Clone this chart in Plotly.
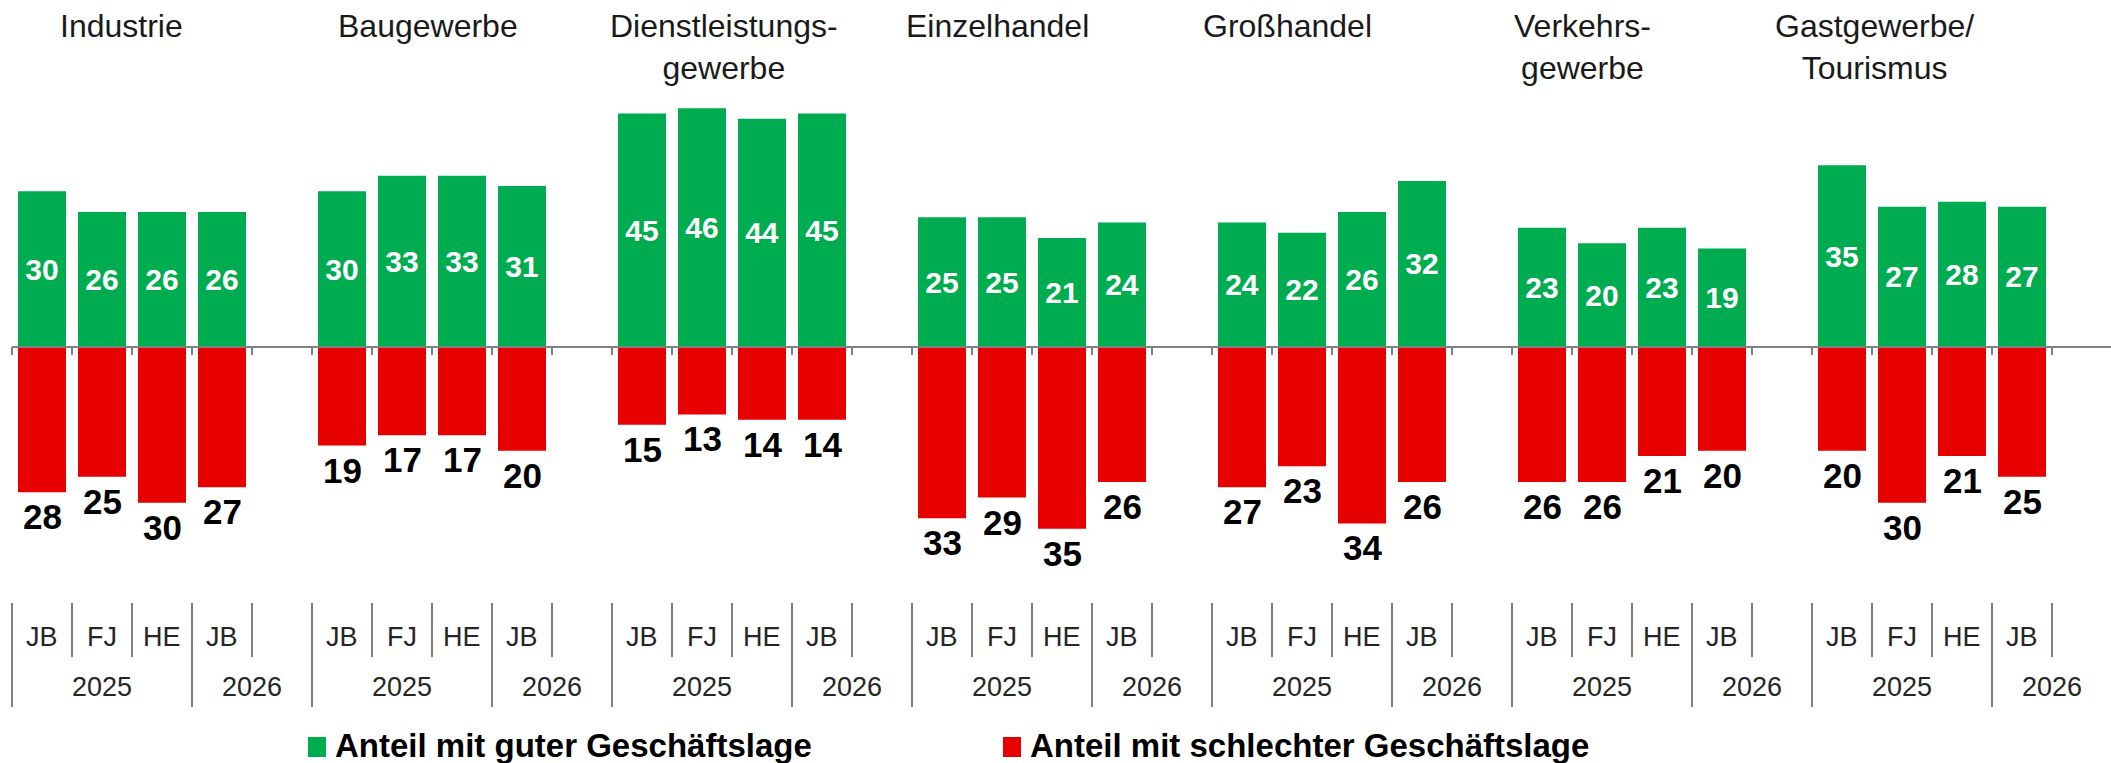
import plotly.graph_objects as go

# ---------------- data ----------------
groups = ["Industrie", "Baugewerbe", "Dienstleistungs-<br>gewerbe", "Einzelhandel",
          "Großhandel", "Verkehrs-<br>gewerbe", "Gastgewerbe/<br>Tourismus"]
periods = ["JB", "FJ", "HE", "JB"]
years = ["2025", "2026"]
good = [[30, 26, 26, 26], [30, 33, 33, 31], [45, 46, 44, 45], [25, 25, 21, 24],
        [24, 22, 26, 32], [23, 20, 23, 19], [35, 27, 28, 27]]
bad = [[28, 25, 30, 27], [19, 17, 17, 20], [15, 13, 14, 14], [33, 29, 35, 26],
       [27, 23, 34, 26], [26, 26, 21, 20], [20, 30, 21, 25]]
legend_names = ["Anteil mit guter Geschäftslage", "Anteil mit schlechter Geschäftslage"]

# ---------------- layout constants ----------------
W, H = 2111, 763
X0, SLOT = 12, 60          # pixel of first slot boundary, slot width
ZERO_PX, PPU = 347, 5.19   # pixel of zero line, pixels per unit
GREEN, RED, GREY = "#00AC50", "#E60000", "#808080"
FONT = "Liberation Sans, Arial, sans-serif"
TXT = "#262626"
title_px = [121, 428, 724, 997, 1287, 1582, 1874]
SLOTS_PER_GROUP = 5


def xd(px):
    return (px - X0) / SLOT - 0.5


def yd(py):
    return (ZERO_PX - py) / PPU


def xp(px):
    return px / W


def yp(py):
    return 1 - py / H


xs, gflat, bflat = [], [], []
for g in range(len(groups)):
    for i in range(len(periods)):
        xs.append(g * SLOTS_PER_GROUP + i)
        gflat.append(good[g][i])
        bflat.append(bad[g][i])

fig = go.Figure()
fig.add_bar(x=xs, y=gflat, width=0.8, marker=dict(color=GREEN, line=dict(width=0)),
            text=gflat, textposition="inside", insidetextanchor="middle", textangle=0,
            textfont=dict(family=FONT, size=30, color="white", weight="bold"),
            name=legend_names[0], hoverinfo="skip")
fig.add_bar(x=xs, y=[-v for v in bflat], width=0.8, marker=dict(color=RED, line=dict(width=0)),
            name=legend_names[1], hoverinfo="skip")

shapes, annotations = [], []
nslots = len(groups) * SLOTS_PER_GROUP
# zero axis line and ticks
shapes.append(dict(type="line", xref="x", yref="y", x0=-0.5, x1=xd(W) + 1, y0=0, y1=0,
                   line=dict(color=GREY, width=2)))
for b in range(nslots + 1):
    shapes.append(dict(type="line", xref="x", yref="paper", x0=b - 0.5, x1=b - 0.5,
                       y0=yp(ZERO_PX), y1=yp(ZERO_PX + 8), line=dict(color=GREY, width=2)))

# red value labels
for x, v in zip(xs, bflat):
    annotations.append(dict(x=x, y=-v, xref="x", yref="y", yanchor="top", yshift=-3,
                            text=f"<b>{v}</b>", showarrow=False,
                            font=dict(family=FONT, size=35, color="black")))

# group titles
for name, px in zip(groups, title_px):
    annotations.append(dict(x=xp(px), y=yp(6), xref="paper", yref="paper", yanchor="top",
                            xanchor="center", text=name, showarrow=False, align="center",
                            font=dict(family=FONT, size=32, color="#1a1a1a")))

# category axis (two-level)
for g in range(len(groups)):
    base = g * SLOTS_PER_GROUP
    for i, p in enumerate(periods):
        annotations.append(dict(x=base + i, y=yp(637), xref="x", yref="paper", yanchor="middle",
                                text=p, showarrow=False, font=dict(family=FONT, size=27, color=TXT)))
    annotations.append(dict(x=base + 1, y=yp(687), xref="x", yref="paper", yanchor="middle",
                            text=years[0], showarrow=False, font=dict(family=FONT, size=27, color=TXT)))
    annotations.append(dict(x=base + 3.5, y=yp(687), xref="x", yref="paper", yanchor="middle",
                            text=years[1], showarrow=False, font=dict(family=FONT, size=27, color=TXT)))
    for b in range(SLOTS_PER_GROUP):
        long = b in (0, 3)
        shapes.append(dict(type="line", xref="x", yref="paper", x0=base + b - 0.5, x1=base + b - 0.5,
                           y0=yp(603), y1=yp(707 if long else 657), line=dict(color=GREY, width=2)))

# legend
for (sx, color, name) in [(308, GREEN, legend_names[0]), (1003, RED, legend_names[1])]:
    shapes.append(dict(type="rect", xref="paper", yref="paper", x0=xp(sx), x1=xp(sx + 18),
                       y0=yp(757), y1=yp(737), fillcolor=color, line=dict(width=0)))
    annotations.append(dict(x=xp(sx + 25), y=yp(745), xref="paper", yref="paper", xanchor="left",
                            yanchor="middle", text=f"<b>{name}</b>", showarrow=False,
                            font=dict(family=FONT, size=33, color="black")))

fig.update_layout(
    width=W, height=H, margin=dict(l=0, r=0, t=0, b=0),
    barmode="relative", showlegend=False,
    plot_bgcolor="white", paper_bgcolor="white",
    xaxis=dict(range=[xd(0), xd(W)], visible=False, fixedrange=True),
    yaxis=dict(range=[yd(H), yd(0)], visible=False, fixedrange=True),
    shapes=shapes, annotations=annotations,
    uniformtext=dict(minsize=10, mode="show"),
)

fig.write_html("out.html", config={"displayModeBar": False},
               post_script="document.body.style.margin='0';")
